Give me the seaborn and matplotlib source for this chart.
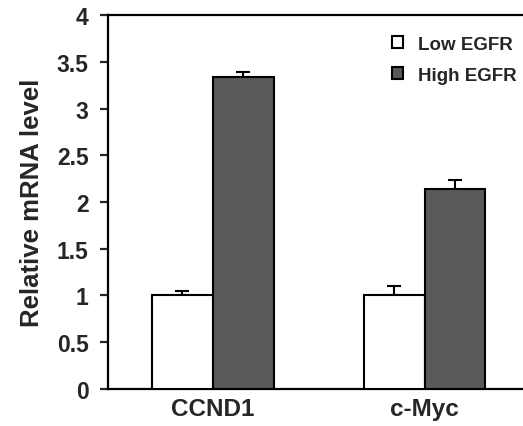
import numpy as np
import pandas as pd
import seaborn as sns
import matplotlib.pyplot as plt

genes = ["CCND1", "c-Myc"]
groups = ["Low EGFR", "High EGFR"]
low_vals = [1.0, 1.0]
low_err = [0.045, 0.10]
high_vals = [3.34, 2.14]
high_err = [0.05, 0.10]

df = pd.DataFrame({
    "gene": genes * 2,
    "group": [groups[0]] * 2 + [groups[1]] * 2,
    "value": low_vals + high_vals,
})
errs = low_err + high_err

sns.set_style("ticks")
plt.rcParams["font.family"] = ["Liberation Sans", "DejaVu Sans"]
plt.rcParams["font.weight"] = "bold"

fig = plt.figure(figsize=(5.23, 4.27), dpi=100)
ax = fig.add_axes([0.2065, 0.0867, 0.7935, 0.8758])

sns.barplot(data=df, x="gene", y="value", hue="group", hue_order=groups,
            palette=["white", "#595959"], edgecolor="black", linewidth=1.5,
            width=0.575, errorbar=None, ax=ax, zorder=3)

# one-sided error bars on top of each bar
for patch, e in zip(ax.patches[:4], errs):
    xc = patch.get_x() + patch.get_width() / 2
    h = patch.get_height()
    ax.errorbar(xc, h, yerr=[[0], [e]], fmt="none", ecolor="black",
                elinewidth=1.5, capsize=4.7, capthick=1.5, zorder=2)

ax.set_ylim(0, 4)
ax.set_yticks(np.arange(0, 4.01, 0.5))
ax.set_yticklabels(["0", "0.5", "1", "1.5", "2", "2.5", "3", "3.5", "4"])
ax.set_xlim(-0.495, 1.465)

ax.set_xlabel("")
ax.set_ylabel("Relative mRNA level", fontsize=18.5, fontweight="bold", labelpad=9)

for s in ["left", "bottom", "top"]:
    ax.spines[s].set_linewidth(1.6)
    ax.spines[s].set_color("black")
ax.spines["right"].set_visible(False)

ax.tick_params(axis="y", direction="out", length=6, width=1.6, labelsize=16.5, pad=8)
ax.tick_params(axis="x", length=0, labelsize=17.5, pad=6)
for lbl in ax.get_xticklabels() + ax.get_yticklabels():
    lbl.set_fontweight("bold")

handles, labels = ax.get_legend_handles_labels()
ax.legend(handles, labels, loc="upper right", frameon=False,
          prop={"size": 13.5, "weight": "bold"}, handlelength=0.6,
          handleheight=0.6, handletextpad=0.8, labelspacing=0.75,
          bbox_to_anchor=(1.025, 0.99))

fig.savefig("out.png", dpi=100)
